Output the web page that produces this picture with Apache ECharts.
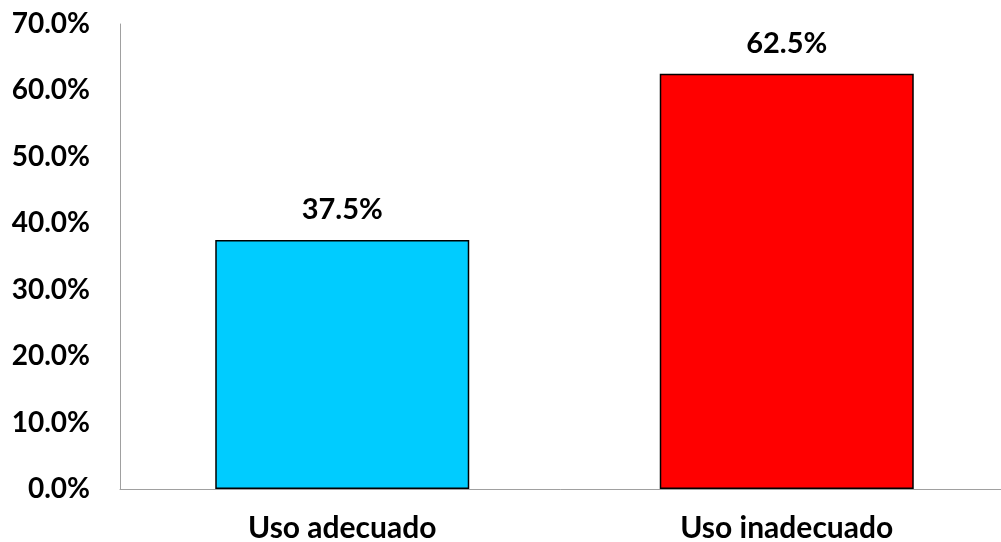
<!DOCTYPE html>
<html><head><meta charset="utf-8">
<script src="https://cdn.jsdelivr.net/npm/echarts@6/dist/echarts.min.js"></script>
<style>html,body{margin:0;padding:0;background:#fff}#c{width:1001px;height:542px}</style>
</head><body><div id="c"></div>
<script>
const categories = ['Uso adecuado', 'Uso inadecuado'];
const values = [37.5, 62.5];
const barColors = ['#00CCFF', '#FF0000'];
const yTicks = [0, 10, 20, 30, 40, 50, 60, 70];

const FONT = 'Lato';
const chart = echarts.init(document.getElementById('c'), null, {renderer: 'canvas'});
chart.setOption({
  animation: false,
  grid: {left: 120, right: -8, top: 24, bottom: 53, containLabel: false, outerBoundsMode: 'none'},
  xAxis: {
    type: 'category', data: categories,
    axisLine: {lineStyle: {color: '#a0a0a0', width: 1}},
    axisTick: {show: false},
    axisLabel: {color: '#000', fontFamily: FONT, fontWeight: 'bold', fontSize: 30, margin: 24}
  },
  yAxis: {
    type: 'value', min: yTicks[0], max: yTicks[yTicks.length - 1], interval: 10,
    axisLine: {show: true, lineStyle: {color: '#a0a0a0', width: 1}},
    axisTick: {show: false},
    splitLine: {show: false},
    axisLabel: {color: '#000', fontFamily: FONT, fontWeight: 'bold', fontSize: 28, margin: 30,
      formatter: v => v.toFixed(1) + '%'}
  },
  series: [{
    type: 'bar',
    barWidth: 254,
    data: values.map((v, i) => ({value: v, itemStyle: {color: barColors[i]}})),
    itemStyle: {borderColor: '#000', borderWidth: 1.5},
    label: {show: true, position: 'top', distance: 16, color: '#000', fontFamily: FONT,
      fontWeight: 'bold', fontSize: 29, formatter: p => p.value.toFixed(1) + '%'}
  }]
});
</script></body></html>
